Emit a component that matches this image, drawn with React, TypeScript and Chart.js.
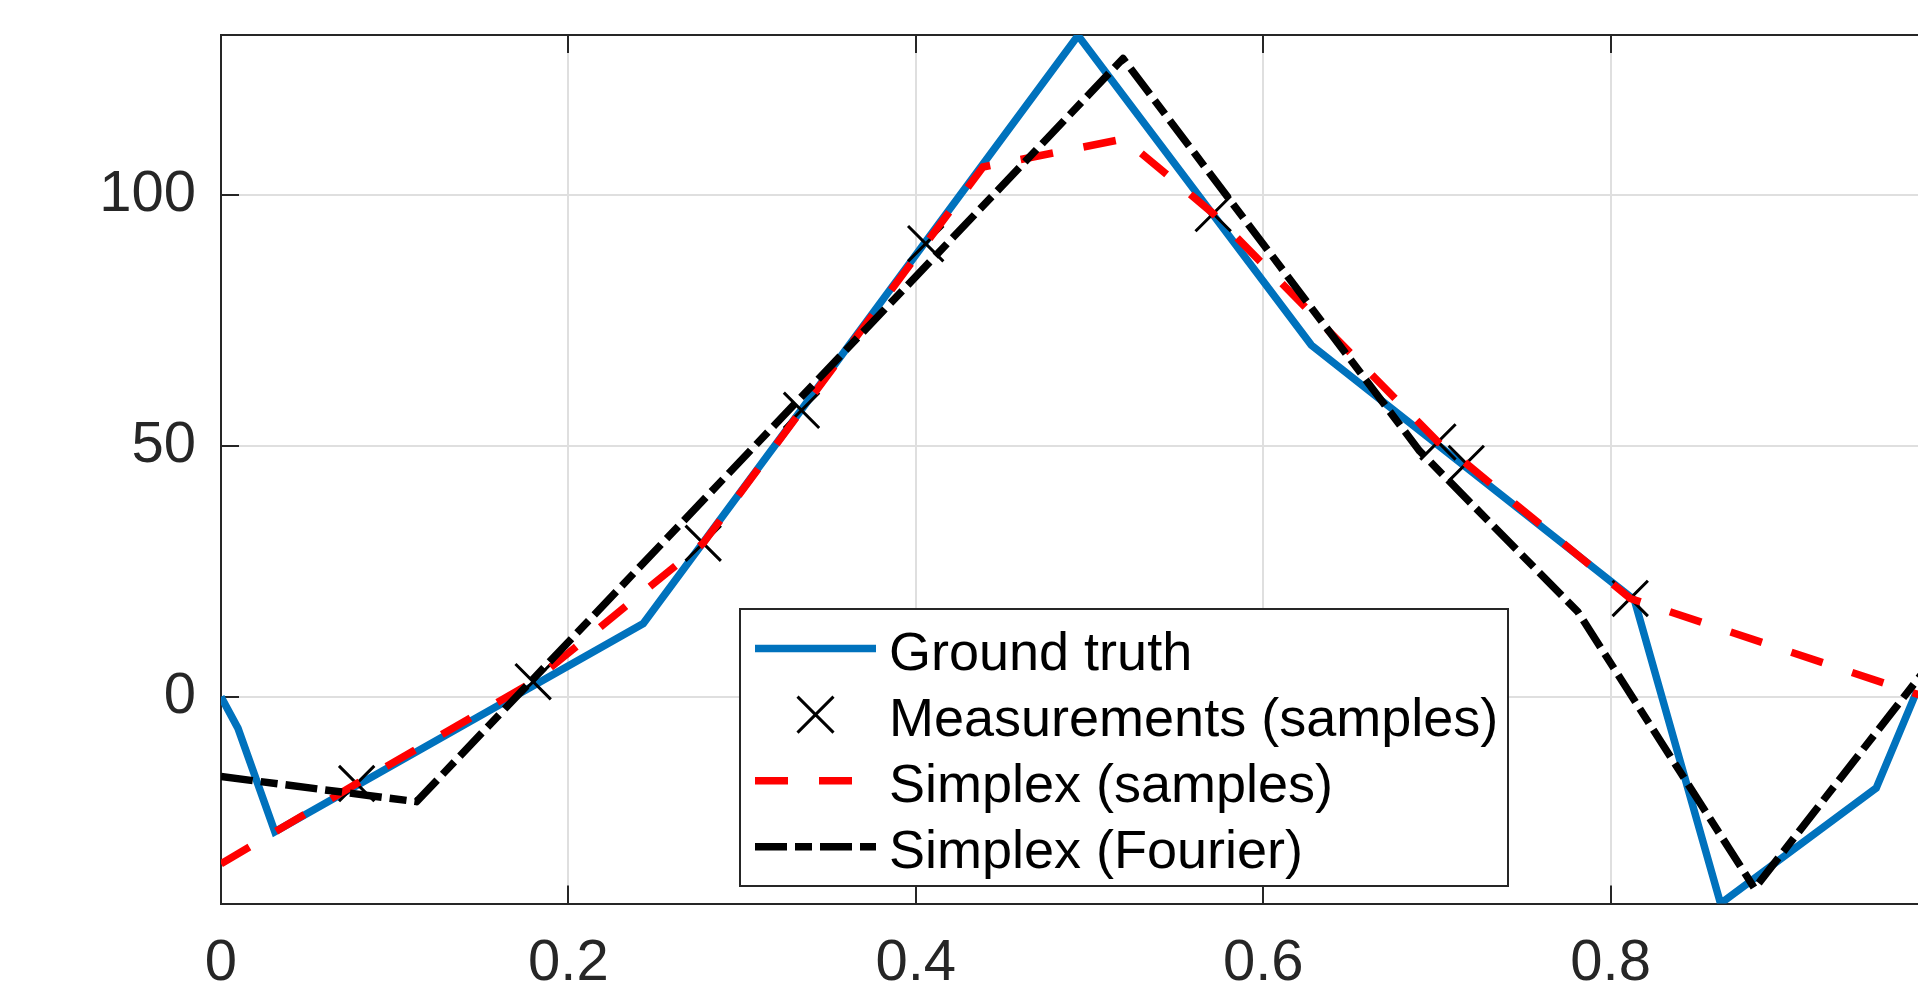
import React, { useEffect, useRef } from "react";
import { Chart, registerables } from "chart.js";

Chart.register(...registerables);

// ---- data ----
const truthX = [0, 0.0098, 0.031, 0.2431, 0.4934, 0.6277, 0.8137, 0.8633, 0.9529, 0.9755, 1];
const truthY = [0, -6.3, -26.9, 14.6, 131.8, 70.1, 19.3, -41.2, -18.2, 0.5, 0];

const measX = [0.0781, 0.1797, 0.2776, 0.3342, 0.4057, 0.5712, 0.7006, 0.7169, 0.8113];
const measY = [-17.3, 3.0, 30.6, 57.1, 90.3, 96.3, 50.8, 46.5, 19.6];

const sampX = [0, 0.0781, 0.1797, 0.2776, 0.3342, 0.4057, 0.4387, 0.52, 0.5712, 0.7006, 0.7169, 0.8113, 1];
const sampY = [-33.3, -17.3, 3.0, 30.6, 57.1, 90.3, 105.6, 111.2, 96.3, 50.8, 46.5, 19.6, -2.2];

const fourX = [0, 0.1126, 0.5193, 0.69, 0.7812, 0.8829, 0.975, 1];
const fourY = [-15.9, -20.9, 127.2, 49.0, 16.9, -38.2, 2.7, 13.8];

const seriesLabels = ["Ground truth", "Measurements (samples)", "Simplex (samples)", "Simplex (Fourier)"];

const xTicks = [0, 0.2, 0.4, 0.6, 0.8, 1];
const xTickLabels = ["0", "0.2", "0.4", "0.6", "0.8", "1"];
const yTicks = [0, 50, 100];
const yTickLabels = ["0", "50", "100"];
const xRange = [0, 1];
const yRange = [-41.2, 131.9];

const FONT = "'Liberation Sans', Arial, Helvetica, sans-serif";
const AXIS = "#262626";

const pts = (xs: number[], ys: number[]) => xs.map((x, i) => ({ x, y: ys[i] }));

const framePlugin = {
  id: "matlabFrame",
  beforeDatasetsDraw(chart: any) {
    const { ctx, chartArea: a, scales } = chart;
    const tl = 18;
    ctx.save();
    ctx.strokeStyle = AXIS;
    ctx.lineWidth = 2;
    ctx.lineCap = "butt";
    ctx.beginPath();
    ctx.moveTo(a.left, a.top);
    ctx.lineTo(a.right, a.top);
    ctx.lineTo(a.right, a.bottom);
    for (const t of scales.x.ticks) {
      const px = Math.round(scales.x.getPixelForValue(t.value));
      ctx.moveTo(px, a.bottom);
      ctx.lineTo(px, a.bottom - tl);
      ctx.moveTo(px, a.top);
      ctx.lineTo(px, a.top + tl);
    }
    for (const t of scales.y.ticks) {
      const py = Math.round(scales.y.getPixelForValue(t.value));
      ctx.moveTo(a.left, py);
      ctx.lineTo(a.left + tl, py);
      ctx.moveTo(a.right, py);
      ctx.lineTo(a.right - tl, py);
    }
    ctx.stroke();
    ctx.restore();
  },
};

const legendPlugin = {
  id: "matlabLegend",
  afterDraw(chart: any) {
    const { ctx, chartArea: a } = chart;
    const box = { left: a.left + 519, top: a.top + 574, right: a.left + 1287, bottom: a.top + 851 };
    ctx.save();
    ctx.fillStyle = "#ffffff";
    ctx.fillRect(box.left, box.top, box.right - box.left, box.bottom - box.top);
    ctx.strokeStyle = AXIS;
    ctx.lineWidth = 2;
    ctx.strokeRect(box.left, box.top, box.right - box.left, box.bottom - box.top);
    const sx0 = box.left + 15;
    const sx1 = box.left + 136;
    const tx = box.left + 149;
    const row0 = box.top + 39.5;
    const step = 66.1;
    ctx.font = `54px ${FONT}`;
    ctx.textBaseline = "alphabetic";
    ctx.textAlign = "left";
    chart.data.datasets.forEach((ds: any, i: number) => {
      const cy = row0 + i * step;
      if (ds.showLine === false) {
        const r = 18;
        const cx = (sx0 + sx1) / 2;
        ctx.strokeStyle = ds.pointBorderColor;
        ctx.lineWidth = ds.pointBorderWidth;
        ctx.setLineDash([]);
        ctx.beginPath();
        ctx.moveTo(cx - r, cy - r);
        ctx.lineTo(cx + r, cy + r);
        ctx.moveTo(cx + r, cy - r);
        ctx.lineTo(cx - r, cy + r);
        ctx.stroke();
      } else {
        ctx.strokeStyle = ds.borderColor;
        ctx.lineWidth = ds.borderWidth;
        ctx.lineCap = "butt";
        ctx.setLineDash(ds.borderDash || []);
        ctx.beginPath();
        ctx.moveTo(sx0, cy);
        ctx.lineTo(sx1, cy);
        ctx.stroke();
        ctx.setLineDash([]);
      }
      ctx.fillStyle = "#000000";
      ctx.fillText(ds.label, tx, cy + 21);
    });
    ctx.restore();
  },
};

export default function App() {
  const ref = useRef<HTMLCanvasElement | null>(null);

  useEffect(() => {
    if (!ref.current) return;
    const chart = new Chart(ref.current, {
      type: "line",
      data: {
        datasets: [
          {
            label: seriesLabels[0],
            data: pts(truthX, truthY),
            borderColor: "#0072BD",
            backgroundColor: "#0072BD",
            borderWidth: 7.5,
            pointRadius: 0,
            tension: 0,
            fill: false,
            borderJoinStyle: "miter",
            order: 3,
          },
          {
            label: seriesLabels[1],
            data: pts(measX, measY),
            showLine: false,
            pointStyle: "crossRot",
            pointRadius: 25,
            pointBorderWidth: 3,
            pointBorderColor: "#000000",
            pointBackgroundColor: "#000000",
            borderColor: "#000000",
            order: 2,
          },
          {
            label: seriesLabels[2],
            data: pts(sampX, sampY),
            borderColor: "#FF0000",
            backgroundColor: "#FF0000",
            borderWidth: 7.5,
            borderDash: [33, 31],
            borderCapStyle: "butt",
            pointRadius: 0,
            tension: 0,
            fill: false,
            order: 1,
          },
          {
            label: seriesLabels[3],
            data: pts(fourX, fourY),
            borderColor: "#000000",
            backgroundColor: "#000000",
            borderWidth: 7.5,
            borderDash: [32, 8, 17, 8],
            borderCapStyle: "butt",
            borderJoinStyle: "round",
            pointRadius: 0,
            tension: 0,
            fill: false,
            order: 0,
          },
        ],
      },
      options: {
        responsive: false,
        animation: false,
        events: [],
        layout: { padding: { top: 35, right: 52, bottom: 0, left: 0 } },
        plugins: { legend: { display: false }, tooltip: { enabled: false } },
        scales: {
          x: {
            type: "linear",
            position: "bottom",
            min: xRange[0],
            max: xRange[1],
            afterBuildTicks: (s: any) => {
              s.ticks = xTicks.map((v) => ({ value: v }));
            },
            afterFit: (s: any) => {
              s.height = 84.5;
              s.paddingLeft = 0;
              s.paddingRight = 0;
            },
            ticks: {
              autoSkip: false,
              maxRotation: 0,
              padding: 26,
              color: AXIS,
              font: { family: FONT, size: 58 },
              callback: (v: any) => xTickLabels[xTicks.indexOf(Number(v))] ?? String(v),
            },
            grid: { color: "#dfdfdf", lineWidth: 2, drawTicks: false },
            border: { color: AXIS, width: 2 },
          },
          y: {
            type: "linear",
            position: "left",
            min: yRange[0],
            max: yRange[1],
            afterBuildTicks: (s: any) => {
              s.ticks = yTicks.map((v) => ({ value: v }));
            },
            afterFit: (s: any) => {
              s.width = 221;
              s.paddingTop = 0;
              s.paddingBottom = 0;
            },
            ticks: {
              autoSkip: false,
              padding: 25,
              color: AXIS,
              font: { family: FONT, size: 58 },
              callback: (v: any) => yTickLabels[yTicks.indexOf(Number(v))] ?? String(v),
            },
            grid: { color: "#dfdfdf", lineWidth: 2, drawTicks: false },
            border: { color: AXIS, width: 2 },
          },
        },
      },
      plugins: [framePlugin, legendPlugin],
    } as any);
    return () => chart.destroy();
  }, []);

  return (
    <div
      style={{
        position: "fixed",
        left: 0,
        top: 0,
        width: "100vw",
        height: "100vh",
        overflow: "hidden",
        background: "#ffffff",
      }}
    >
      <canvas
        ref={ref}
        width={2010}
        height={988}
        style={{ position: "absolute", left: 0, top: 0, width: 2010, height: 988, display: "block" }}
      />
    </div>
  );
}
